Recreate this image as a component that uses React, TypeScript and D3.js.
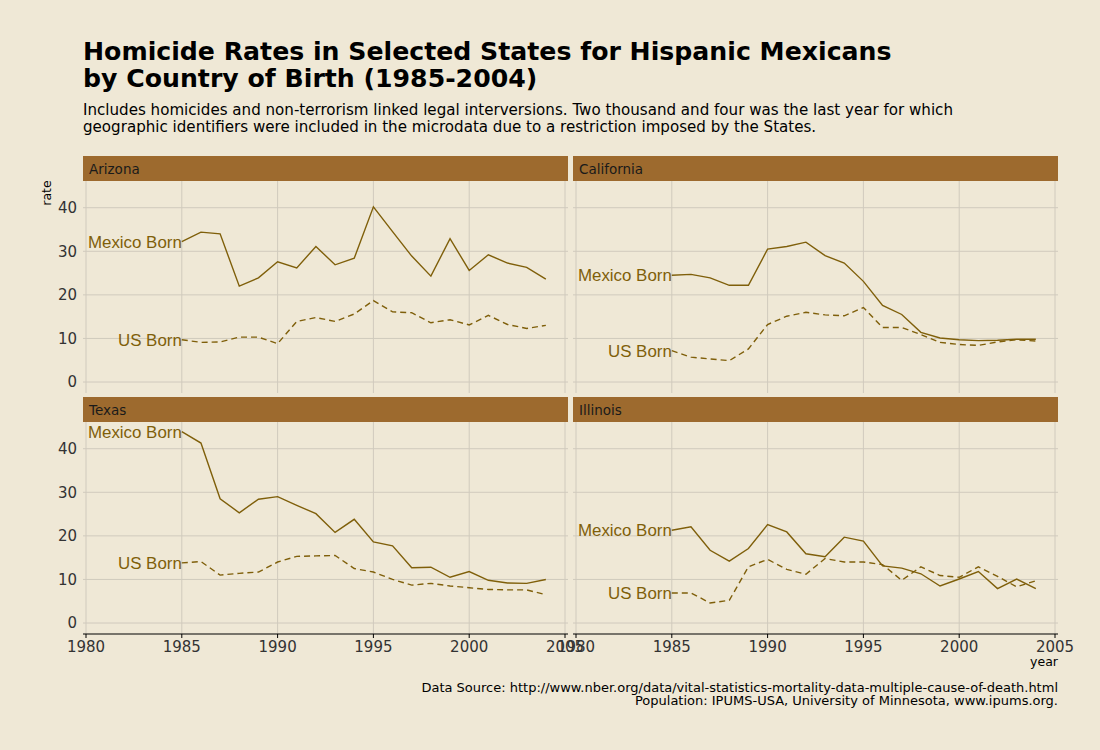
import * as React from "react";
import { scaleLinear, line } from "d3";

const years = [1985, 1986, 1987, 1988, 1989, 1990, 1991, 1992, 1993, 1994,
    1995, 1996, 1997, 1998, 1999, 2000, 2001, 2002, 2003, 2004];

const states = ["Arizona", "California", "Texas", "Illinois"];

const arizonaMexico = [32.2, 34.4, 34.0, 22.0, 23.9, 27.6, 26.2, 31.1, 26.9, 28.4,
    40.2, 34.5, 28.9, 24.3, 32.9, 25.6, 29.2, 27.3, 26.3, 23.6];
const arizonaUS = [9.7, 9.1, 9.2, 10.3, 10.3, 8.8, 13.9, 14.8, 13.9, 15.6,
    18.7, 16.1, 15.9, 13.6, 14.3, 13.1, 15.3, 13.2, 12.3, 13.0];

const californiaMexico = [24.5, 24.7, 23.9, 22.2, 22.2, 30.5, 31.1, 32.1, 29.0, 27.3,
    23.1, 17.6, 15.5, 11.4, 10.1, 9.7, 9.5, 9.6, 9.8, 9.8];
const californiaUS = [7.2, 5.7, 5.3, 4.9, 7.6, 13.2, 15.1, 16.0, 15.4, 15.2,
    17.1, 12.5, 12.5, 10.9, 9.1, 8.6, 8.4, 9.2, 9.7, 9.4];

const texasMexico = [43.9, 41.3, 28.5, 25.3, 28.4, 29.0, 27.0, 25.1, 20.8, 23.8,
    18.6, 17.7, 12.7, 12.8, 10.5, 11.8, 9.8, 9.2, 9.1, 10.0];
const texasUS = [13.8, 14.1, 11.0, 11.4, 11.7, 14.0, 15.3, 15.4, 15.5, 12.5,
    11.7, 10.0, 8.7, 9.1, 8.5, 8.1, 7.7, 7.6, 7.6, 6.5];

const illinoisMexico = [21.3, 22.1, 16.7, 14.2, 17.1, 22.6, 20.9, 15.9, 15.2, 19.7,
    18.8, 13.1, 12.6, 11.3, 8.5, 10.1, 11.8, 7.9, 10.1, 7.9];
const illinoisUS = [6.9, 6.9, 4.6, 5.2, 12.9, 14.6, 12.3, 11.2, 14.8, 14.0,
    14.0, 13.4, 9.8, 12.9, 10.9, 10.5, 12.9, 10.7, 8.3, 9.7];

const mexicoSeries = [arizonaMexico, californiaMexico, texasMexico, illinoisMexico];
const usSeries = [arizonaUS, californiaUS, texasUS, illinoisUS];

const xTicks = [1980, 1985, 1990, 1995, 2000, 2005];
const yTicks = [0, 10, 20, 30, 40];

const BG = "#efe8d6";
const STRIP = "#9d6a2e";
const LINE = "#7f5f0a";
const GRID = "#d0cabd";

// layout
const panelW = 485;
const colX = [83, 573];
const rowY = [156, 397];
const stripH = 25;
const plotH = 212;

function Panel({ idx }) {
    const col = idx % 2;
    const row = Math.floor(idx / 2);
    const x0 = colX[col];
    const top = rowY[row] + stripH;
    const bottom = top + plotH;

    const x = scaleLinear().domain([1980, 2005]).range([x0 + 3, x0 + panelW - 3]);
    const y = scaleLinear().domain([-2.52, 46.13]).range([bottom, top]);

    const lineGen = line<number>()
        .x((d, i) => x(years[i]))
        .y(d => y(d));

    const mex = mexicoSeries[idx];
    const us = usSeries[idx];

    return (
        <g>
            <rect x={x0} y={rowY[row]} width={panelW} height={stripH} fill={STRIP} />
            <text x={x0 + 6} y={rowY[row] + 17.5} fontSize={13.5} fill="#1a1a1a"
                fontFamily="DejaVu Sans">{states[idx]}</text>
            {yTicks.map(t => (
                <line key={"h" + t} x1={x0} x2={x0 + panelW} y1={y(t)} y2={y(t)}
                    stroke={GRID} strokeWidth={1} />
            ))}
            {xTicks.map(t => (
                <line key={"v" + t} x1={x(t)} x2={x(t)} y1={top} y2={bottom}
                    stroke={GRID} strokeWidth={1} />
            ))}
            <path d={lineGen(mex)} fill="none" stroke={LINE} strokeWidth={1.4} />
            <path d={lineGen(us)} fill="none" stroke={LINE} strokeWidth={1.4}
                strokeDasharray="6,4" />
            <text x={x(1985)} y={y(mex[0])} dy="0.36em" textAnchor="end" fontSize={16.9}
                fill={LINE} fontFamily="Liberation Sans">Mexico Born</text>
            <text x={x(1985)} y={y(us[0])} dy="0.36em" textAnchor="end" fontSize={16.9}
                fill={LINE} fontFamily="Liberation Sans">US Born</text>
            {col === 0 && yTicks.map(t => (
                <text key={"yl" + t} x={x0 - 6} y={y(t)} dy="0.36em" textAnchor="end"
                    fontSize={15} fill="#333" fontFamily="DejaVu Sans">{t}</text>
            ))}
            {row === 1 && (
                <g>
                    <line x1={x0} x2={x0 + panelW} y1={bottom} y2={bottom} stroke="#000" strokeWidth={1.2} />
                    {xTicks.map(t => (
                        <g key={"xt" + t}>
                            <line x1={x(t)} x2={x(t)} y1={bottom} y2={bottom + 4} stroke="#000" />
                            <text x={x(t)} y={bottom + 18} textAnchor="middle" fontSize={15}
                                fill="#333" fontFamily="DejaVu Sans">{t}</text>
                        </g>
                    ))}
                </g>
            )}
        </g>
    );
}

export default function App() {
    return (
        <svg width={1100} height={750} style={{ display: "block", position: "absolute", left: 0, top: 0 }}>
            <rect width={1100} height={750} fill={BG} />
            <g fontFamily="DejaVu Sans">
                <text x={83} y={60} fontSize={25.2} fontWeight="bold" fill="#000">
                    Homicide Rates in Selected States for Hispanic Mexicans
                </text>
                <text x={83} y={87} fontSize={25.2} fontWeight="bold" fill="#000">
                    by Country of Birth (1985-2004)
                </text>
                <text x={83} y={115} fontSize={15.1} fill="#000">
                    Includes homicides and non-terrorism linked legal interversions. Two thousand and four was the last year for which
                </text>
                <text x={83} y={132} fontSize={15.1} fill="#000">
                    geographic identifiers were included in the microdata due to a restriction imposed by the States.
                </text>
                <text transform="translate(51,193) rotate(-90)" textAnchor="middle" fontSize={12.5} fill="#000">rate</text>
                <text x={1058} y={666} textAnchor="end" fontSize={12.5} fill="#000">year</text>
                <text x={1058} y={692} textAnchor="end" fontSize={13} fill="#000">
                    Data Source: http://www.nber.org/data/vital-statistics-mortality-data-multiple-cause-of-death.html
                </text>
                <text x={1058} y={705} textAnchor="end" fontSize={13} fill="#000">
                    Population: IPUMS-USA, University of Minnesota, www.ipums.org.
                </text>
            </g>
            {states.map((s, i) => <Panel key={s} idx={i} />)}
        </svg>
    );
}
